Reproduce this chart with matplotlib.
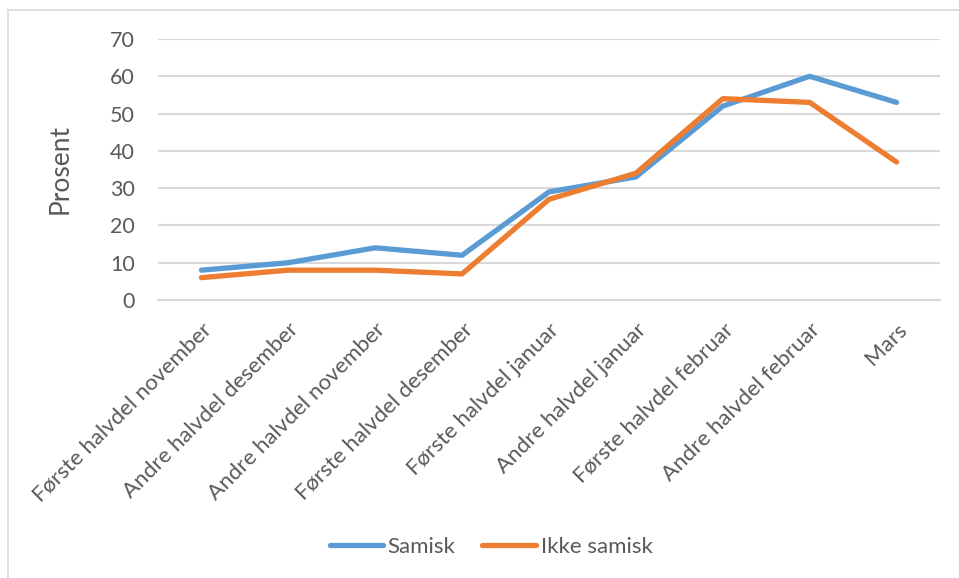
import matplotlib.pyplot as plt
from matplotlib.lines import Line2D

# Data
categories = [
    "Første halvdel november",
    "Andre halvdel desember",
    "Andre halvdel november",
    "Første halvdel desember",
    "Første halvdel januar",
    "Andre halvdel januar",
    "Første halvdel februar",
    "Andre halvdel februar",
    "Mars",
]
samisk = [8, 10, 14, 12, 29, 33, 52, 60, 53]
ikke_samisk = [6, 8, 8, 7, 27, 34, 54, 53, 37]
yticks = [0, 10, 20, 30, 40, 50, 60, 70]

blue = "#5B9BD5"
orange = "#ED7D31"
text_col = "#595959"
grid_col = "#D9D9D9"

plt.rcParams["font.family"] = ["Lato", "DejaVu Sans"]

W, H = 959, 578
fig = plt.figure(figsize=(W / 100, H / 100), dpi=100)
ax = fig.add_axes([158 / W, 1 - 300 / H, (940 - 158) / W, (300 - 39) / H])

x = list(range(len(categories)))
ax.plot(x, samisk, color=blue, lw=3.8, solid_capstyle="round", solid_joinstyle="round", label="Samisk")
ax.plot(x, ikke_samisk, color=orange, lw=3.8, solid_capstyle="round", solid_joinstyle="round", label="Ikke samisk")

ax.set_xlim(-0.5, len(categories) - 0.5)
ax.set_ylim(0, 70)
ax.set_yticks(yticks)
ax.yaxis.grid(True, color=grid_col, lw=1.5)
ax.set_axisbelow(True)
for s in ["top", "right", "left"]:
    ax.spines[s].set_visible(False)
ax.spines["bottom"].set_color(grid_col)
ax.spines["bottom"].set_linewidth(1.5)

ax.set_xticks(x)
ax.set_xticklabels(categories, rotation=45, ha="right", va="top", rotation_mode="anchor")
ax.tick_params(axis="x", length=0, pad=14, labelsize=16, colors=text_col)
ax.tick_params(axis="y", length=0, pad=16.5, labelsize=15.5, colors=text_col)

fig.text(60 / W, 1 - 169 / H, "Prosent", rotation=90, ha="center", va="center",
         fontsize=19, color=text_col)

leg = fig.legend(
    handles=[Line2D([], [], color=blue, lw=3.8, solid_capstyle="round"),
             Line2D([], [], color=orange, lw=3.8, solid_capstyle="round")],
    labels=["Samisk", "Ikke samisk"],
    loc="center", bbox_to_anchor=(491 / W, 1 - 547 / H),
    ncol=2, frameon=False, fontsize=16, handlelength=2.4, handletextpad=0.22,
    columnspacing=1.2,
)
for t in leg.get_texts():
    t.set_color(text_col)

# chart border
fig.add_artist(Line2D([8 / W, 8 / W], [0, 1 - 10 / H], transform=fig.transFigure, color=grid_col, lw=1.2))
fig.add_artist(Line2D([8 / W, 1], [1 - 10 / H, 1 - 10 / H], transform=fig.transFigure, color=grid_col, lw=1.2))

fig.savefig("out.png", dpi=100, facecolor="white")
